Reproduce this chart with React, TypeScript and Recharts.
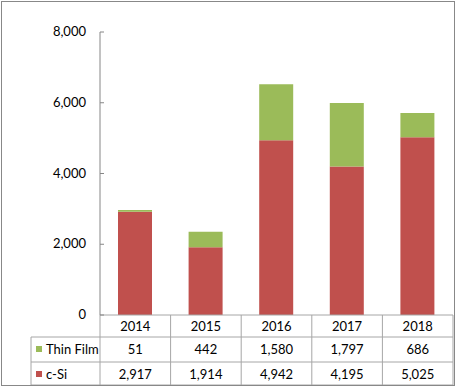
import { BarChart, Bar, XAxis, YAxis } from "recharts";

const years = ["2014", "2015", "2016", "2017", "2018"];
const thinFilm = [51, 442, 1580, 1797, 686];
const cSi = [2917, 1914, 4942, 4195, 5025];
const yTicks = [0, 2000, 4000, 6000, 8000];

const data = years.map((y, i) => ({ year: y, cSi: cSi[i], thinFilm: thinFilm[i] }));

const FONT = "Lato, 'Open Sans', sans-serif";
const GRID = "#a6a6a6";
const RED = "#C0504D";
const GREEN = "#9BBB59";
const fmt = (v: number) => v.toLocaleString("en-US");

function YTick(props: any) {
  const { x, y, payload } = props;
  return (
    <g>
      <line x1={x} x2={x + 4} y1={y} y2={y} stroke="#868686" />
      <text x={x - 14} y={y} dy={4} textAnchor="end" fontSize={13} fontFamily={FONT} fill="#000">
        {fmt(payload.value)}
      </text>
    </g>
  );
}

function TableTick(props: any) {
  const { x, y, index, payload } = props;
  const cw = 353 / years.length;
  const l = x - cw / 2;
  const r = x + cw / 2;
  const r1 = y + 22;
  const r2 = y + 47;
  const r3 = y + 70;
  const txt = { fontSize: 13, fontFamily: FONT, fill: "#000", textAnchor: "middle" as const };
  return (
    <g>
      <line x1={r} x2={r} y1={y} y2={r3} stroke={GRID} />
      <line x1={l} x2={r} y1={r1} y2={r1} stroke={GRID} />
      <line x1={l} x2={r} y1={r2} y2={r2} stroke={GRID} />
      <line x1={l} x2={r} y1={r3} y2={r3} stroke={GRID} />
      <text x={x} y={y + 16} {...txt}>{payload.value}</text>
      <text x={x} y={r1 + 17} {...txt}>{fmt(thinFilm[index])}</text>
      <text x={x} y={r2 + 17} {...txt}>{fmt(cSi[index])}</text>
      {index === 0 && (
        <g>
          <line x1={l} x2={l} y1={y} y2={r3} stroke={GRID} />
          <line x1={31} x2={l} y1={r1} y2={r1} stroke={GRID} />
          <line x1={31} x2={l} y1={r2} y2={r2} stroke={GRID} />
          <line x1={31} x2={l} y1={r3} y2={r3} stroke={GRID} />
          <line x1={31} x2={31} y1={r1} y2={r3} stroke={GRID} />
          <rect x={36} y={r1 + 9} width={6} height={6} fill={GREEN} />
          <text x={46} y={r1 + 17} fontSize={13} fontFamily={FONT} fill="#000">Thin Film</text>
          <rect x={36} y={r2 + 9} width={6} height={6} fill={RED} />
          <text x={46} y={r2 + 17} fontSize={13} fontFamily={FONT} fill="#000">c-Si</text>
        </g>
      )}
    </g>
  );
}

export default function App() {
  return (
    <div style={{ position: "absolute", left: 0, top: 0, width: 466, height: 387, background: "#fff" }}>
      <BarChart
        width={466}
        height={387}
        data={data}
        margin={{ top: 32, right: 13, bottom: 2, left: 40 }}
        barSize={34}
      >
        <XAxis
          dataKey="year"
          height={70}
          tickLine={false}
          tickSize={0}
          tickMargin={0}
          axisLine={{ stroke: GRID }}
          tick={<TableTick />}
          interval={0}
        />
        <YAxis
          width={60}
          domain={[0, 8000]}
          ticks={yTicks}
          tickLine={false}
          tickSize={0}
          tickMargin={0}
          axisLine={{ stroke: "#868686" }}
          tick={<YTick />}
        />
        <Bar dataKey="cSi" stackId="a" fill={RED} isAnimationActive={false} />
        <Bar dataKey="thinFilm" stackId="a" fill={GREEN} isAnimationActive={false} />
      </BarChart>
      <div
        style={{
          position: "absolute",
          left: 1,
          top: 1,
          width: 452,
          height: 383,
          border: "1px solid #888",
          pointerEvents: "none",
        }}
      />
    </div>
  );
}
